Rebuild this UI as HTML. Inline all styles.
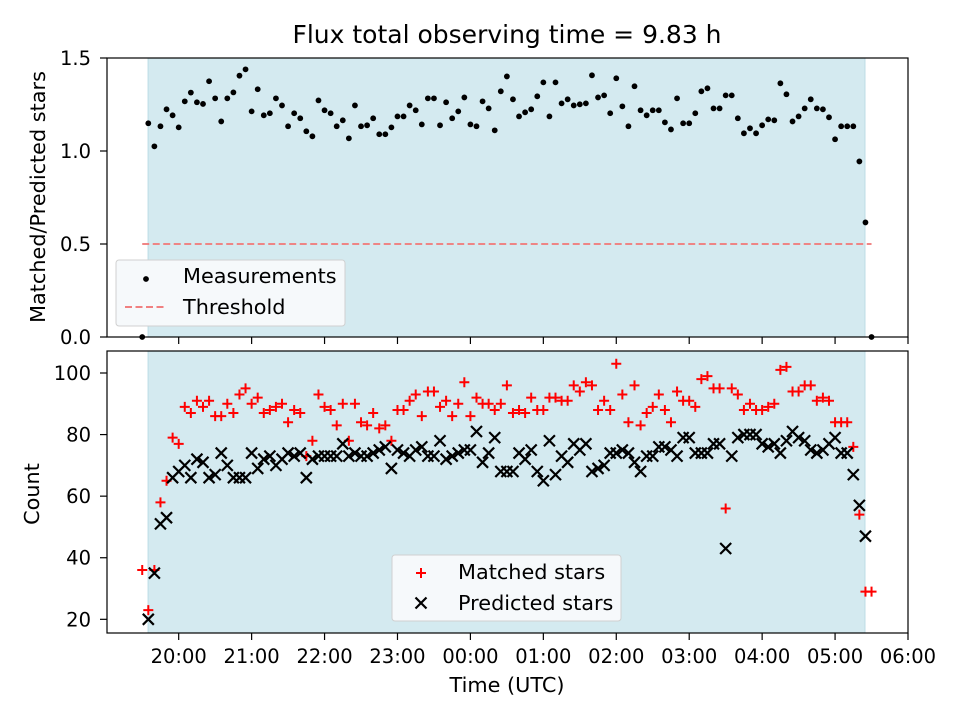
<!DOCTYPE html>
<html><head><meta charset="utf-8"><style>
body{margin:0;background:#fff;}
svg{display:block;font-family:"DejaVu Sans","Liberation Sans",sans-serif;}
</style></head><body>
<svg id="chart" width="960" height="720" viewBox="0 0 960 720" xmlns="http://www.w3.org/2000/svg"></svg>
<script>
// ---- data ----
const startHour = 19.5;          // first sample time (19:30 UTC)
const stepMinutes = 5;           // sampling cadence
const ratioValues = [0,1.149,1.025,1.133,1.224,1.192,1.127,1.267,1.314,1.262,1.253,1.375,1.283,1.159,1.283,1.315,1.405,1.439,1.213,1.332,1.192,1.203,1.283,1.245,1.133,1.203,1.176,1.106,1.079,1.272,1.219,1.203,1.133,1.165,1.068,1.245,1.133,1.138,1.176,1.090,1.090,1.127,1.186,1.186,1.245,1.219,1.143,1.283,1.283,1.138,1.262,1.176,1.213,1.288,1.143,1.133,1.267,1.229,1.111,1.321,1.401,1.278,1.186,1.208,1.224,1.294,1.369,1.186,1.369,1.256,1.278,1.245,1.251,1.256,1.407,1.288,1.299,1.203,1.391,1.240,1.133,1.348,1.219,1.192,1.219,1.219,1.154,1.116,1.283,1.149,1.149,1.203,1.321,1.337,1.229,1.229,1.299,1.299,1.176,1.095,1.122,1.095,1.138,1.170,1.165,1.364,1.305,1.159,1.186,1.229,1.278,1.229,1.224,1.181,1.063,1.133,1.133,1.133,0.944,0.616,0];
const matchedValues = [36,23,36,58,65,79,77,89,87,91,89,91,86,86,90,87,93,95,90,92,87,88,89,90,84,88,87,73,78,93,89,88,83,90,78,90,84,83,87,82,83,78,88,88,91,93,86,94,94,89,91,86,90,97,86,92,90,90,88,90,96,87,88,87,92,88,88,92,92,91,91,96,94,97,96,88,91,88,103,93,84,96,83,87,89,93,88,84,94,91,91,89,98,99,95,95,56,95,93,88,90,88,88,89,90,101,102,94,94,96,96,91,92,91,84,84,84,76,54,29,29];
const predictedValues = [null,20,35,51,53,66,68,70,66,72,71,66,67,74,70,66,66,66,74,69,72,73,70,72,74,73,74,66,72,73,73,73,73,77,73,74,73,73,74,75,76,69,75,74,73,75,76,73,73,78,72,73,74,75,75,81,71,74,79,68,68,68,74,72,75,68,65,78,67,73,71,77,75,77,68,69,70,74,74,75,74,71,68,73,73,76,76,75,73,79,79,74,74,74,77,77,43,73,79,80,80,80,77,76,77,74,78,81,79,78,75,74,75,77,79,74,74,67,57,47,null];
const topTicks = [0, 0.5, 1.0, 1.5];
const topTickLabels = ["0.0","0.5","1.0","1.5"];
const bottomTicks = [20,40,60,80,100];
const xTickHours = [20,21,22,23,24,25,26,27,28,29,30];
const xTickLabels = ["20:00","21:00","22:00","23:00","00:00","01:00","02:00","03:00","04:00","05:00","06:00"];
const thresholdValue = 0.5;
const shadeStart = 19.58, shadeEnd = 29.41;

// ---- geometry ----
const L = 107, R = 908;
const xMin = 19.017, xMax = 30.0;
const xS = h => L + (h - xMin) * (R - L) / (xMax - xMin);
const topT = 58, topB = 337;
const yT = v => topB - (v - 0) * (topB - topT) / 1.5;
const botT = 351, botB = 633;
const yB = v => 373 + (100 - v) * 3.079;
const TICK_FS = 19.5, LABEL_FS = 20.8;

const svg = document.getElementById('chart');
const NS = 'http://www.w3.org/2000/svg';
function mk(tag, attrs, parent) {
  const e = document.createElementNS(NS, tag);
  for (const k in attrs) e.setAttribute(k, attrs[k]);
  (parent || svg).appendChild(e);
  return e;
}
const times = matchedValues.map((_, i) => startHour + i * stepMinutes / 60);

// title
const title = mk('text', {x: 507, y: 43, 'text-anchor': 'middle', 'font-size': 25, fill: '#000'});


title.textContent = 'Flux total observing time = 9.83 h';

function panel(name, top, bottom) {
  const g = mk('g', {});
  
  
  const sh = mk('rect', {x: xS(shadeStart), y: top, width: xS(shadeEnd) - xS(shadeStart), height: bottom - top, fill: '#d4eaf0', stroke: '#bcdde6', 'stroke-width': 1}, g);
  
  
  return g;
}
function frame(g, top, bottom) {
  const f = mk('rect', {x: L, y: top, width: R - L, height: bottom - top, fill: 'none', stroke: '#000', 'stroke-width': 1.2}, g);
  
  
  xTickHours.forEach((h, i) => {
    const t = mk('line', {x1: xS(h), x2: xS(h), y1: bottom, y2: bottom + 7, stroke: '#000', 'stroke-width': 1.2}, g);
    
    
  });
}

// ---- top panel ----
const gTop = panel('ratio-panel', topT, topB);
const thr = mk('line', {x1: xS(times[0]), x2: xS(times[times.length - 1]), y1: yT(thresholdValue), y2: yT(thresholdValue), stroke: '#f08080', 'stroke-width': 2, 'stroke-dasharray': '7,3.5', opacity: 0.95}, gTop);


ratioValues.forEach((v, i) => {
  const c = mk('circle', {cx: xS(times[i]), cy: yT(v), r: 2.9, fill: '#000'}, gTop);
  
  
});
frame(gTop, topT, topB);
topTicks.forEach((v, i) => {
  const t = mk('line', {x1: L - 7, x2: L, y1: yT(v), y2: yT(v), stroke: '#000', 'stroke-width': 1.2}, gTop);
  
  
  const tx = mk('text', {x: L - 16, y: yT(v) + 7, 'text-anchor': 'end', 'font-size': TICK_FS}, gTop);
  
  
  tx.textContent = topTickLabels[i];
});
const yl1 = mk('text', {x: 45, y: 197, 'text-anchor': 'middle', 'font-size': LABEL_FS, transform: 'rotate(-90 45 197)'}, gTop);


yl1.textContent = 'Matched/Predicted stars';
// top legend
const lg1 = mk('g', {}, gTop);


mk('rect', {x: 116, y: 260, width: 229, height: 66, rx: 3, fill: '#f6f9fb', stroke: '#d0d0d0', 'stroke-width': 1}, lg1);
const le1 = mk('circle', {cx: 146, cy: 279, r: 2.9, fill: '#000'}, lg1);


const lt1 = mk('text', {x: 183, y: 283, 'font-size': LABEL_FS}, lg1); lt1.textContent = 'Measurements';


const le2 = mk('line', {x1: 125, x2: 167, y1: 307, y2: 307, stroke: '#f08080', 'stroke-width': 2, 'stroke-dasharray': '7,3.5'}, lg1);


const lt2 = mk('text', {x: 183, y: 314, 'font-size': LABEL_FS}, lg1); lt2.textContent = 'Threshold';



// ---- bottom panel ----
const gBot = panel('count-panel', botT, botB);
function plus(g, x, y, s) {
  return mk('path', {d: `M${x - s} ${y}H${x + s}M${x} ${y - s}V${y + s}`, stroke: '#ff0000', 'stroke-width': 2, fill: 'none'}, g);
}
function cross(g, x, y, s) {
  return mk('path', {d: `M${x - s} ${y - s}L${x + s} ${y + s}M${x - s} ${y + s}L${x + s} ${y - s}`, stroke: '#000', 'stroke-width': 2.2, fill: 'none'}, g);
}
matchedValues.forEach((v, i) => {
  if (v == null) return;
  const p = plus(gBot, xS(times[i]), yB(v), 5);
  
  
});
predictedValues.forEach((v, i) => {
  if (v == null) return;
  const p = cross(gBot, xS(times[i]), yB(v), 5.5);
  
  
});
frame(gBot, botT, botB);
bottomTicks.forEach(v => {
  const t = mk('line', {x1: L - 7, x2: L, y1: yB(v), y2: yB(v), stroke: '#000', 'stroke-width': 1.2}, gBot);
  
  
  const tx = mk('text', {x: L - 16, y: yB(v) + 7, 'text-anchor': 'end', 'font-size': TICK_FS}, gBot);
  
  
  tx.textContent = String(v);
});
xTickHours.forEach((h, i) => {
  const tx = mk('text', {x: xS(h), y: botB + 30, 'text-anchor': 'middle', 'font-size': TICK_FS}, gBot);
  
  
  tx.textContent = xTickLabels[i];
});
const yl2 = mk('text', {x: 39, y: 494, 'text-anchor': 'middle', 'font-size': LABEL_FS, transform: 'rotate(-90 39 494)'}, gBot);


yl2.textContent = 'Count';
const xl = mk('text', {x: 507, y: 692, 'text-anchor': 'middle', 'font-size': LABEL_FS}, gBot);


xl.textContent = 'Time (UTC)';
// bottom legend
const lg2 = mk('g', {}, gBot);


mk('rect', {x: 392, y: 555, width: 229, height: 66, rx: 3, fill: '#f6f9fb', stroke: '#d0d0d0', 'stroke-width': 1}, lg2);
const lp = plus(lg2, 421, 573, 5);


const lm = mk('text', {x: 458, y: 579, 'font-size': LABEL_FS}, lg2); lm.textContent = 'Matched stars';


const lx = cross(lg2, 421, 603, 5.5);


const lpr = mk('text', {x: 458, y: 610, 'font-size': LABEL_FS}, lg2); lpr.textContent = 'Predicted stars';


</script>
</body></html>
